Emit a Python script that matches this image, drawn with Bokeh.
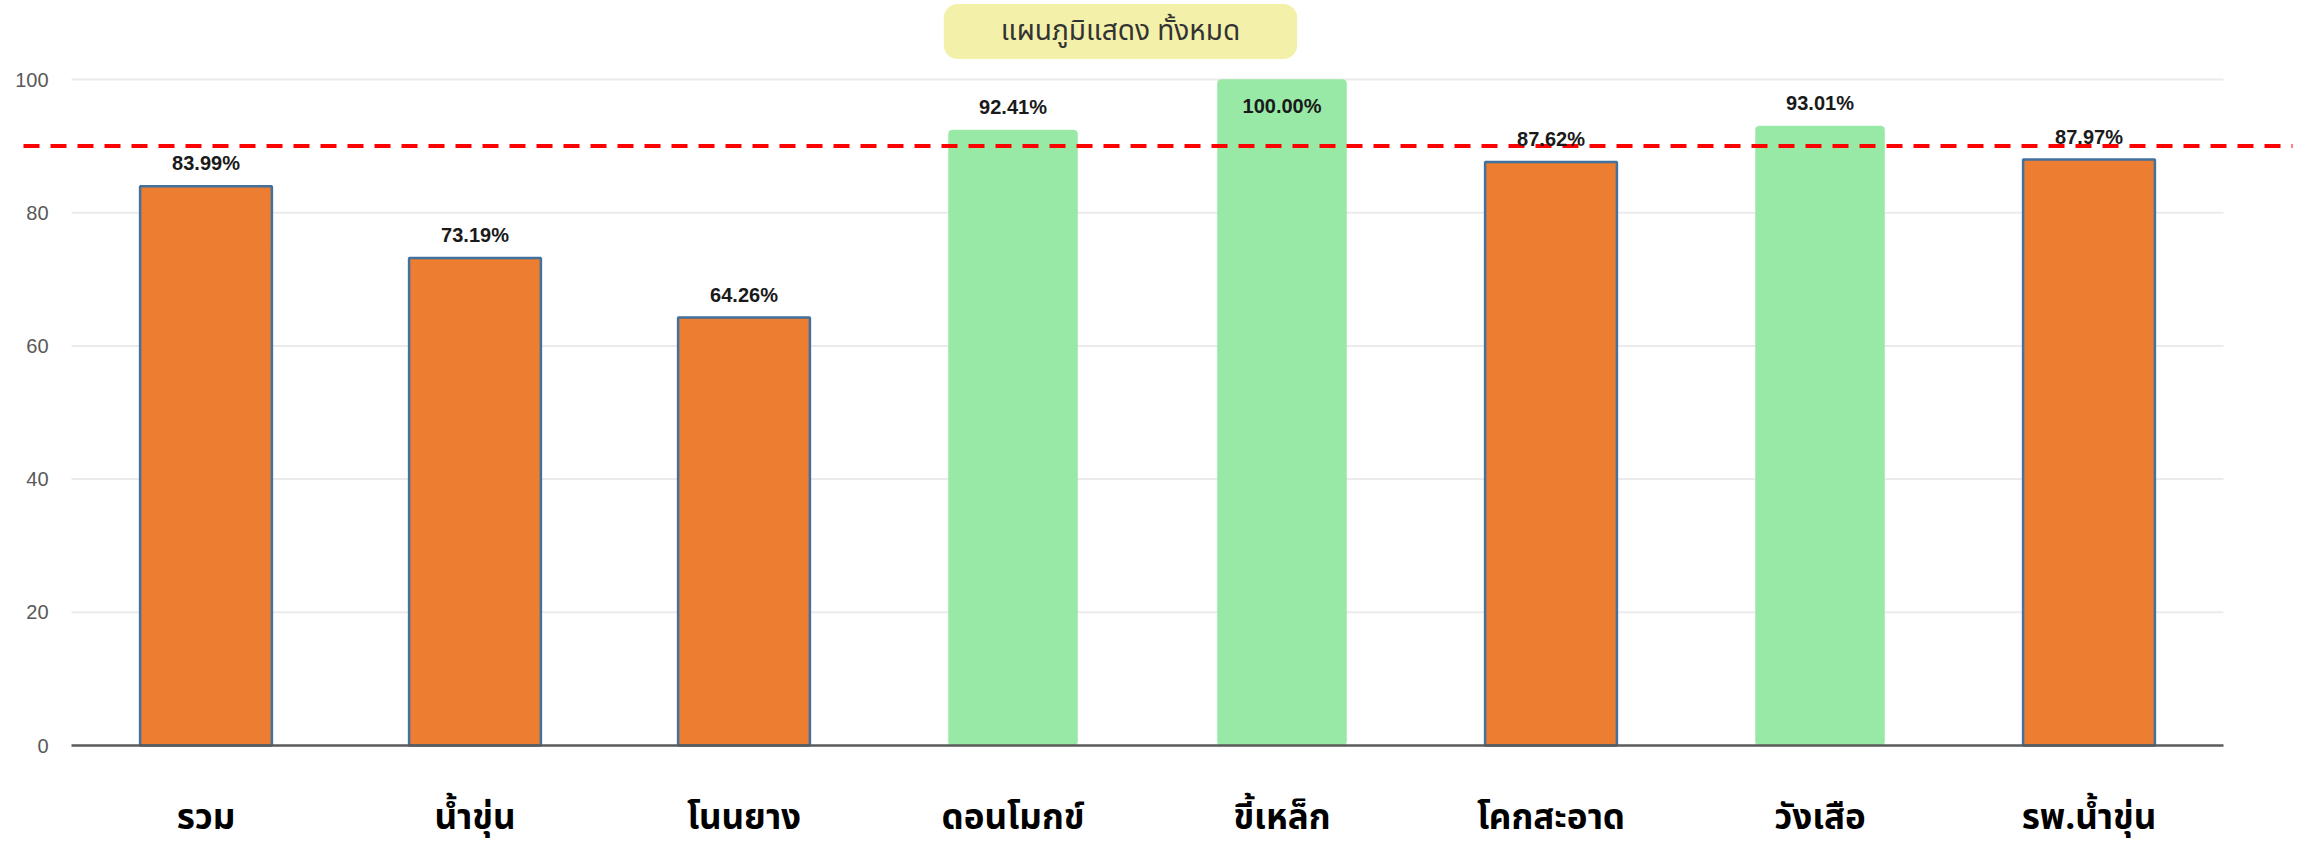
from bokeh.plotting import figure
from bokeh.models import ColumnDataSource, Range1d, Label
from bokeh.core.properties import value
from bokeh.embed import file_html
from bokeh.resources import INLINE

# ---------------- data ----------------
categories = ["รวม", "น้ำขุ่น", "โนนยาง", "ดอนโมกข์", "ขี้เหล็ก", "โคกสะอาด", "วังเสือ", "รพ.น้ำขุ่น"]
values = [83.99, 73.19, 64.26, 92.41, 100.00, 87.62, 93.01, 87.97]
target = 90
y_ticks = [0, 20, 40, 60, 80, 100]
title_text = "แผนภูมิแสดง ทั้งหมด"

# ---------------- layout constants (page pixels) ----------------
W, H = 2308, 845
PX_PER_UNIT = 6.66
Y0_PX = 745
y_end = Y0_PX / PX_PER_UNIT
y_start = -(H - Y0_PX) / PX_PER_UNIT

n = len(categories)
xs = list(range(n))
PX_PER_CAT = 269.0
GRID_LEFT_PX = 71


def px2x(px):
    return (px - GRID_LEFT_PX) / PX_PER_CAT - 0.5


def px2y(py):
    return (Y0_PX - py) / PX_PER_UNIT


p = figure(width=W, height=H, output_backend="svg", toolbar_location=None,
           x_range=Range1d(px2x(0), px2x(W)), y_range=Range1d(y_start, y_end),
           min_border_left=0, min_border_right=0, min_border_top=0,
           min_border_bottom=0)
p.outline_line_color = None
p.background_fill_color = "white"
p.border_fill_color = "white"
p.xgrid.visible = False
p.ygrid.visible = False
p.yaxis.visible = False
p.xaxis.visible = False

# grid lines (within category extent)
grid_src = ColumnDataSource(dict(y=[t for t in y_ticks if t > 0]))
p.segment(x0=-0.5, x1=n - 0.5, y0="y", y1="y", source=grid_src,
          line_color="#EBEBEB", line_width=2)

# bars
is_green = [v >= target for v in values]
orange = ColumnDataSource(dict(x=[x for x, g in zip(xs, is_green) if not g],
                               top=[v for v, g in zip(values, is_green) if not g]))
green = ColumnDataSource(dict(x=[x for x, g in zip(xs, is_green) if g],
                              top=[v for v, g in zip(values, is_green) if g]))
p.vbar(x="x", top="top", bottom=0, width=0.49, source=orange,
       fill_color="#ED7D31", line_color="#41719C", line_width=2.5)
p.vbar(x="x", top="top", bottom=0, width=0.48, source=green,
       fill_color="#98E9A6", line_color="#98E9A6", line_width=0.5, border_radius=4)

# zero line
p.segment(x0=[-0.5], x1=[n - 0.5], y0=[0], y1=[0], line_color="#5A5A5A", line_width=2.5)

# target line
p.segment(x0=[px2x(23)], x1=[px2x(2292)], y0=[target], y1=[target],
          line_color="#FF0000", line_width=4, line_dash="16 11")

# value labels
inside = [v + 30 / PX_PER_UNIT > 100 for v in values]
lab_src = ColumnDataSource(dict(
    x=xs, y=values,
    text=[f"{v:.2f}%" for v in values],
    off=[26 if ins else -23 for ins in inside]))
p.text(x="x", y="y", text="text", y_offset="off", source=lab_src,
       text_align="center", text_baseline="middle",
       text_font=value("Liberation Sans"), text_font_style="bold",
       text_font_size="20px", text_color="#1A1A1A")

# y tick labels
ytl_src = ColumnDataSource(dict(x=[px2x(48)] * len(y_ticks), y=y_ticks,
                                text=[str(t) for t in y_ticks]))
p.text(x="x", y="y", text="text", source=ytl_src, text_align="right",
       text_baseline="middle", text_font=value("Liberation Sans"),
       text_font_size="20px", text_color="#595959")

# category labels
cat_src = ColumnDataSource(dict(x=xs, y=[px2y(818)] * n, text=categories))
p.text(x="x", y="y", text="text", source=cat_src, text_align="center",
       text_baseline="middle", text_font=value("Noto Sans Thai"),
       text_font_size="35px", text_font_style="bold", text_color="#000000")

# title box
p.add_layout(Label(x=px2x(1120), y=px2y(31), text=title_text,
                   text_align="center", text_baseline="middle",
                   text_font="Noto Sans Thai", text_font_size="28px",
                   text_color="#333333",
                   background_fill_color="#F3F1A9", border_radius=14,
                   padding=(57, 6)))

open("out.html", "w").write(file_html(p, INLINE))
